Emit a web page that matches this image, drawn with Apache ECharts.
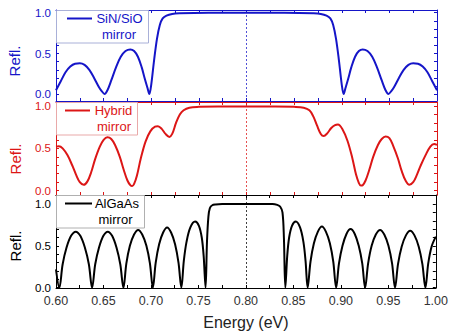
<!DOCTYPE html>
<html>
<head>
<meta charset="utf-8">
<script src="https://cdn.jsdelivr.net/npm/echarts@6/dist/echarts.min.js"></script>
<style>
  html, body { margin: 0; padding: 0; background: #fff; }
  #chart { width: 451px; height: 332px; }
</style>
</head>
<body>
<div id="chart"></div>
<script>
// Reflectance spectra of three mirror designs, [energy (eV), reflectance]
const sinSioRefl = [
  [0.600,0.05],[0.605,0.16],[0.610,0.27],[0.615,0.34],[0.620,0.375],[0.625,0.38],[0.630,0.36],
  [0.635,0.30],[0.640,0.20],[0.645,0.09],[0.648,0.04],[0.651,0.003],[0.654,0.05],[0.658,0.17],
  [0.663,0.33],[0.668,0.46],[0.673,0.53],[0.678,0.55],[0.682,0.53],[0.686,0.46],[0.690,0.33],
  [0.693,0.20],[0.696,0.08],[0.698,0.003],[0.700,0.12],[0.703,0.42],[0.706,0.68],[0.709,0.85],
  [0.712,0.93],[0.716,0.965],[0.722,0.985],[0.730,0.993],[0.745,0.997],[0.775,0.998],[0.800,0.998],
  [0.825,0.998],[0.855,0.997],[0.870,0.993],[0.878,0.985],[0.884,0.965],[0.888,0.93],[0.891,0.85],
  [0.894,0.68],[0.897,0.42],[0.900,0.12],[0.902,0.003],[0.904,0.08],[0.907,0.20],[0.910,0.33],
  [0.914,0.46],[0.918,0.53],[0.922,0.55],[0.927,0.53],[0.932,0.46],[0.937,0.33],[0.942,0.17],
  [0.946,0.05],[0.949,0.003],[0.952,0.04],[0.955,0.09],[0.960,0.20],[0.965,0.30],[0.970,0.36],
  [0.975,0.38],[0.980,0.375],[0.985,0.34],[0.990,0.27],[0.995,0.16],[1.000,0.05]
];

const hybridRefl = [
  [0.600,0.52],[0.603,0.525],[0.607,0.50],[0.612,0.42],[0.617,0.30],[0.621,0.19],[0.625,0.10],
  [0.629,0.07],[0.633,0.11],[0.637,0.22],[0.641,0.37],[0.646,0.52],[0.650,0.60],[0.654,0.63],
  [0.658,0.61],[0.662,0.54],[0.667,0.40],[0.671,0.25],[0.675,0.12],[0.678,0.065],[0.680,0.055],
  [0.682,0.08],[0.685,0.18],[0.689,0.38],[0.694,0.58],[0.699,0.70],[0.704,0.755],[0.707,0.76],
  [0.711,0.73],[0.715,0.67],[0.719,0.635],[0.722,0.67],[0.726,0.80],[0.730,0.90],[0.734,0.95],
  [0.740,0.98],[0.750,0.99],[0.770,0.995],[0.800,0.995],[0.830,0.995],[0.850,0.99],[0.860,0.98],
  [0.866,0.95],[0.870,0.88],[0.874,0.77],[0.878,0.67],[0.881,0.645],[0.885,0.68],[0.889,0.74],
  [0.893,0.775],[0.896,0.78],[0.901,0.72],[0.906,0.59],[0.911,0.39],[0.915,0.19],[0.918,0.09],
  [0.920,0.06],[0.922,0.065],[0.925,0.12],[0.929,0.25],[0.933,0.40],[0.938,0.54],[0.942,0.61],
  [0.946,0.64],[0.950,0.62],[0.954,0.53],[0.959,0.38],[0.963,0.23],[0.967,0.12],[0.971,0.07],
  [0.975,0.10],[0.979,0.19],[0.983,0.30],[0.988,0.42],[0.993,0.52],[0.997,0.55],[1.000,0.54]
];

const algaasRefl = [
  [0.600,0.22],[0.6035,0.0],
  [0.6070,0.28],[0.6111,0.48],[0.6159,0.62],[0.6208,0.67],[0.6256,0.62],[0.6304,0.48],[0.6346,0.28],[0.638,0.0],
  [0.6413,0.28],[0.6453,0.48],[0.6499,0.62],[0.6545,0.67],[0.6591,0.62],[0.6637,0.48],[0.6677,0.28],[0.671,0.0],
  [0.6741,0.29],[0.6778,0.50],[0.6822,0.635],[0.6865,0.69],[0.6908,0.635],[0.6952,0.50],[0.6989,0.29],[0.702,0.0],
  [0.705,0.30],[0.7086,0.52],[0.7128,0.66],[0.717,0.72],[0.7212,0.66],[0.7254,0.52],[0.729,0.30],[0.732,0.0],
  [0.7346,0.32],[0.7375,0.55],[0.7415,0.72],[0.7465,0.79],[0.7505,0.74],[0.7535,0.60],[0.7555,0.38],[0.7575,0.0],
  [0.7590,0.55],[0.7605,0.85],[0.7620,0.95],[0.7645,0.985],[0.768,0.995],[0.775,1.0],[0.800,1.0],
  [0.828,1.0],[0.833,0.99],[0.836,0.97],[0.8385,0.90],[0.840,0.60],[0.8415,0.0],
  [0.8435,0.38],[0.8455,0.60],[0.8485,0.74],[0.8525,0.79],[0.8570,0.72],[0.8605,0.55],[0.8628,0.32],[0.865,0.0],
  [0.868,0.31],[0.8716,0.53],[0.8758,0.67],[0.880,0.73],[0.8842,0.67],[0.8884,0.53],[0.892,0.31],[0.895,0.0],
  [0.898,0.29],[0.9017,0.50],[0.906,0.645],[0.9102,0.70],[0.9145,0.645],[0.9188,0.50],[0.9225,0.29],[0.9255,0.0],
  [0.9287,0.29],[0.9324,0.50],[0.9368,0.635],[0.9413,0.69],[0.9457,0.635],[0.9501,0.50],[0.9539,0.29],[0.957,0.0],
  [0.9602,0.285],[0.964,0.49],[0.9685,0.625],[0.973,0.68],[0.9775,0.625],[0.982,0.49],[0.9858,0.285],[0.989,0.0],
  [0.992,0.29],[0.9955,0.49],[1.000,0.61]
];

const panelNames = [['SiN/SiO', 'mirror'], ['Hybrid', 'mirror'], ['AlGaAs', 'mirror']];
const panelData = [sinSioRefl, hybridRefl, algaasRefl];
const xTickLabels = [0.60, 0.65, 0.70, 0.75, 0.80, 0.85, 0.90, 0.95, 1.00];
const yTickLabels = [0.0, 0.5, 1.0];
const yMinorTicks = [0, 0.1, 0.2, 0.3, 0.4, 0.5, 0.6, 0.7, 0.8, 0.9, 1.0];
const stopBandCenter = 0.80;

const FONT = '"Liberation Sans", Arial, sans-serif';
const colors = ['#1515c8', '#dc1616', '#000000'];
const boxColors = ['#a9b0d8', '#e9a9a9', '#b0b0b0'];

// panel frames in pixels, and the y range each frame spans
const panels = [
  { top: 10,  height: 91, yMin: -0.082, yMax: 1.033 },
  { top: 102, height: 93, yMin: -0.051, yMax: 1.047 },
  { top: 195, height: 93, yMin: -0.004, yMax: 1.108 }
];
const LEFT = 56, RIGHT = 14;

const grid = [], xAxis = [], yAxis = [], series = [], graphic = [];

panels.forEach((p, i) => {
  const c = colors[i];
  grid.push({ left: LEFT, right: RIGHT, top: p.top, height: p.height, containLabel: false });

  const xBase = {
    gridIndex: i, type: 'value', min: 0.6, max: 1.0, interval: 0.05,
    axisLine: { show: true, onZero: false, lineStyle: { color: c, width: 1 } },
    axisTick: { show: true, inside: true, length: 3, lineStyle: { color: c } },
    minorTick: { show: true, splitNumber: 2, length: 3, lineStyle: { color: c } },
    splitLine: { show: false }
  };
  xAxis.push(Object.assign({}, xBase, {
    position: 'bottom',
    axisLabel: {
      show: i === 2, margin: 6, color: '#333', fontSize: 12.5, fontFamily: FONT,
      customValues: xTickLabels,
      formatter: v => v.toFixed(2)
    },
    name: i === 2 ? 'Energy (eV)' : '',
    nameLocation: 'middle', nameGap: 26,
    nameTextStyle: { fontSize: 16, color: '#222', fontFamily: FONT }
  }));
  xAxis.push(Object.assign({}, xBase, { position: 'top', axisLabel: { show: false } }));

  const yBase = {
    gridIndex: i, type: 'value', min: p.yMin, max: p.yMax,
    axisLine: { show: true, onZero: false, lineStyle: { color: c, width: 1 } },
    axisTick: { show: true, inside: true, length: 3, customValues: yMinorTicks, lineStyle: { color: c } },
    splitLine: { show: false }
  };
  yAxis.push(Object.assign({}, yBase, {
    position: 'left',
    axisLabel: {
      show: true, margin: 5, color: c, fontSize: 11.5, lineHeight: 11, fontFamily: FONT,
      customValues: yTickLabels,
      formatter: v => v.toFixed(1)
    }
  }));
  yAxis.push(Object.assign({}, yBase, { position: 'right', axisLabel: { show: false } }));

  series.push({
    type: 'line',
    xAxisIndex: i * 2, yAxisIndex: i * 2,
    data: panelData[i],
    smooth: 0.35,
    showSymbol: false,
    lineStyle: { color: c, width: 2 },
    z: 3,
    markLine: {
      silent: true, symbol: 'none', label: { show: false },
      lineStyle: { color: c, type: [2, 2], width: 1, opacity: 0.75 },
      data: [{ xAxis: stopBandCenter }]
    }
  });

  // legend box in the upper-left corner of the panel
  const boxW = [92, 81, 88][i];
  const boxH = 32.5;
  const textX = [119.5, 113.5, 117][i];
  const text2X = [119, 114, 115.5][i];
  const lineX = [[67, 92], [65, 90], [65, 92]][i];
  graphic.push({
    type: 'rect', z: 50,
    shape: { x: LEFT + 0.5, y: p.top + 0.5, width: boxW, height: boxH },
    style: { fill: '#fff', stroke: boxColors[i], lineWidth: 1 }
  });
  graphic.push({
    type: 'line', z: 51,
    shape: { x1: lineX[0], y1: p.top + 8.5, x2: lineX[1], y2: p.top + 8.5 },
    style: { stroke: c, lineWidth: 2 }
  });
  graphic.push({
    type: 'text', z: 51,
    style: {
      text: panelNames[i][0], x: textX, y: p.top + 8.5, fill: c,
      font: '13px ' + FONT, textAlign: 'center', textVerticalAlign: 'middle'
    }
  });
  graphic.push({
    type: 'text', z: 51,
    style: {
      text: panelNames[i][1], x: text2X, y: p.top + 24, fill: c,
      font: '13px ' + FONT, textAlign: 'center', textVerticalAlign: 'middle'
    }
  });
  // rotated axis title
  graphic.push({
    type: 'text', z: 51,
    x: [14.5, 15, 15][i], y: [61, 159, 246][i], rotation: Math.PI / 2,
    style: {
      text: 'Refl.', fill: c,
      font: '15px ' + FONT, textAlign: 'center', textVerticalAlign: 'middle'
    }
  });
});

const chart = echarts.init(document.getElementById('chart'), null, { renderer: 'svg' });
chart.setOption({
  animation: false,
  backgroundColor: '#ffffff',
  grid, xAxis, yAxis, series, graphic
});
</script>
</body>
</html>
